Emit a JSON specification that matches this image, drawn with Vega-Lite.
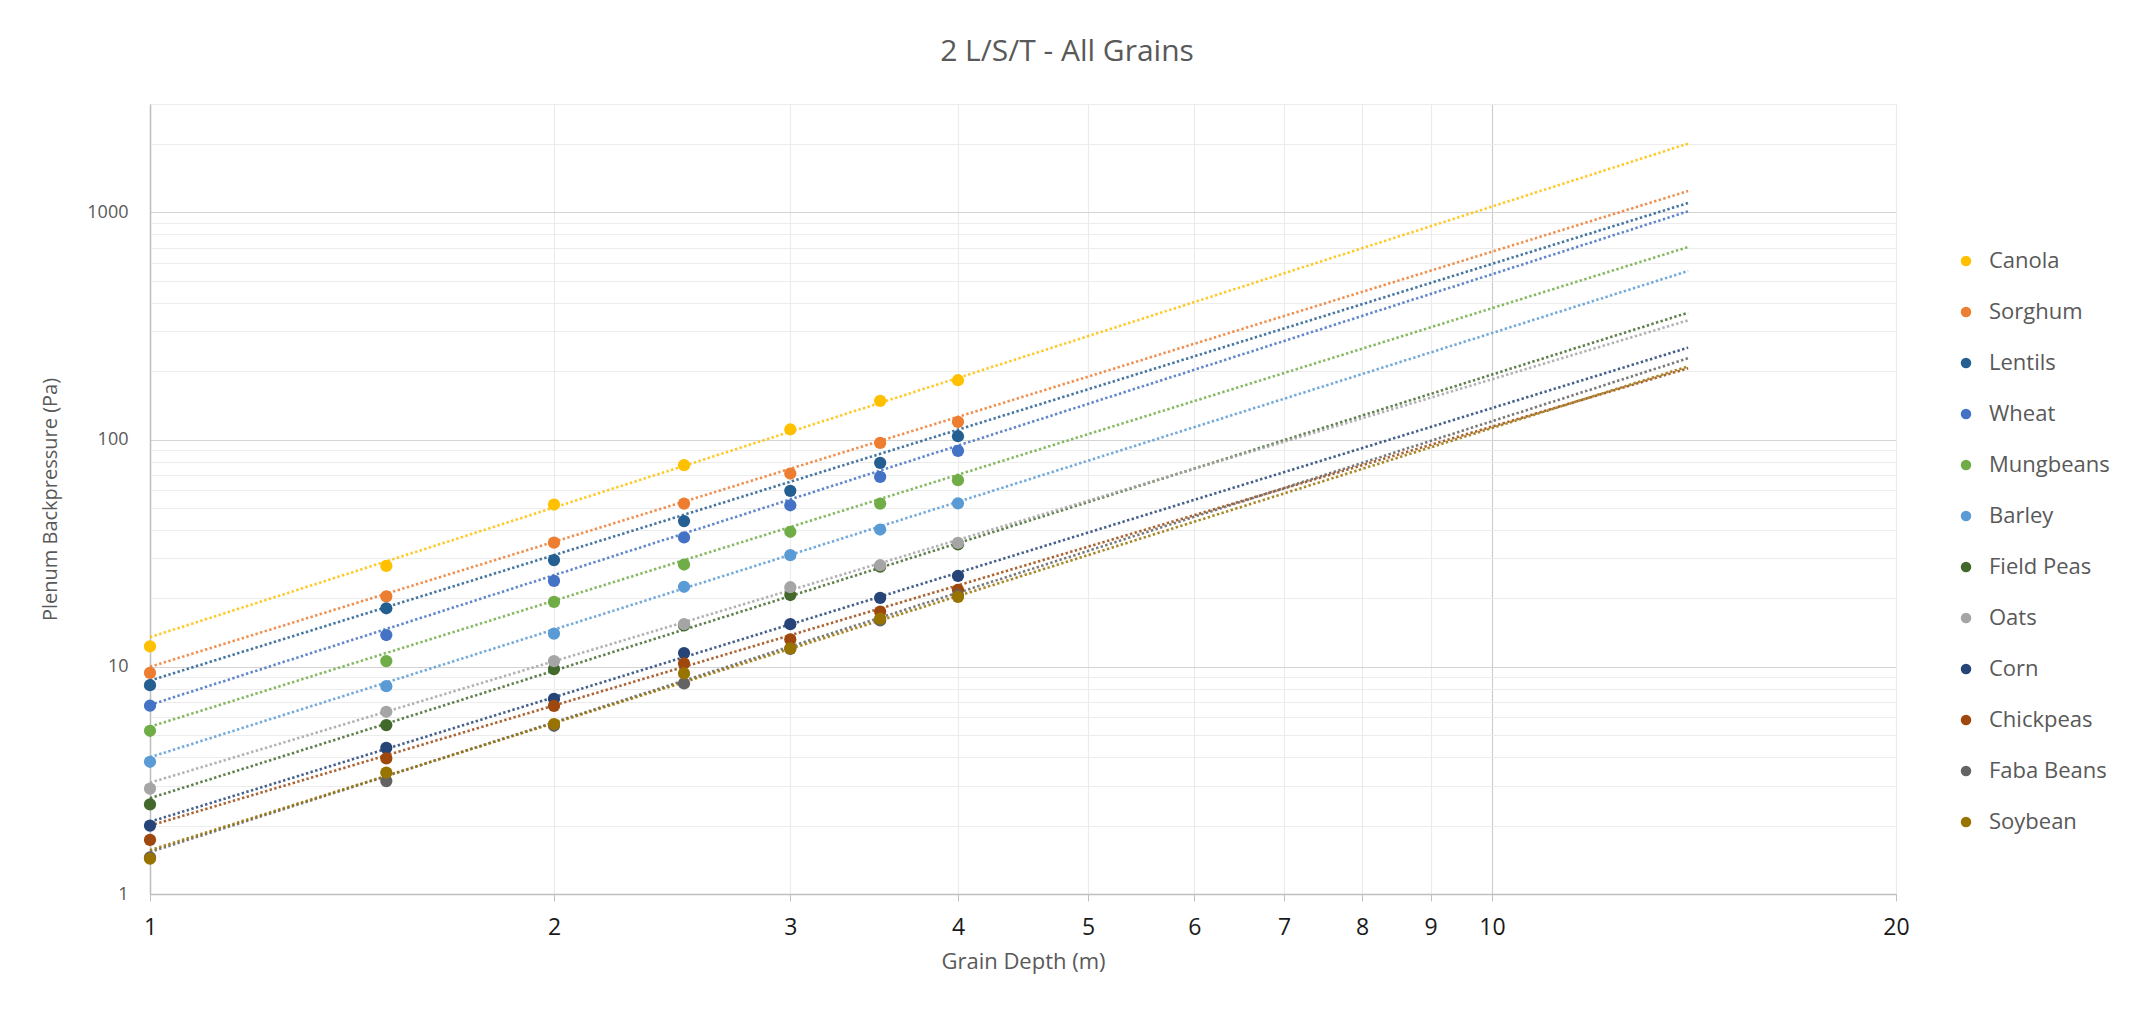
{
  "$schema": "https://vega.github.io/schema/vega-lite/v6.json",
  "width": 1746,
  "height": 790,
  "autosize": {"type": "none"},
  "padding": {"left": 150, "top": 104, "right": 238, "bottom": 120},
  "background": "#ffffff",
  "config": {
    "font": "Open Sans",
    "view": {"stroke": null},
    "axis": {"labelFont": "Open Sans", "titleFont": "Open Sans", "titleFontWeight": "normal"}
  },
  "title": {
    "text": "2 L/S/T - All Grains",
    "fontSize": 30,
    "fontWeight": "normal",
    "color": "#595959",
    "anchor": "middle",
    "dx": 44,
    "offset": 28
  },
  "datasets": {
    "measured": [
      {"grain": "Canola", "depth": 1, "pressure": 12.3},
      {"grain": "Canola", "depth": 1.5, "pressure": 27.8},
      {"grain": "Canola", "depth": 2, "pressure": 51.8},
      {"grain": "Canola", "depth": 2.5, "pressure": 77.2},
      {"grain": "Canola", "depth": 3, "pressure": 110.8},
      {"grain": "Canola", "depth": 3.5, "pressure": 148},
      {"grain": "Canola", "depth": 4, "pressure": 182.5},
      {"grain": "Sorghum", "depth": 1, "pressure": 9.4},
      {"grain": "Sorghum", "depth": 1.5, "pressure": 20.4},
      {"grain": "Sorghum", "depth": 2, "pressure": 35.2},
      {"grain": "Sorghum", "depth": 2.5, "pressure": 52.3},
      {"grain": "Sorghum", "depth": 3, "pressure": 70.9},
      {"grain": "Sorghum", "depth": 3.5, "pressure": 96.7},
      {"grain": "Sorghum", "depth": 4, "pressure": 119.6},
      {"grain": "Lentils", "depth": 1, "pressure": 8.3},
      {"grain": "Lentils", "depth": 1.5, "pressure": 18.1},
      {"grain": "Lentils", "depth": 2, "pressure": 29.5},
      {"grain": "Lentils", "depth": 2.5, "pressure": 43.8},
      {"grain": "Lentils", "depth": 3, "pressure": 59.5},
      {"grain": "Lentils", "depth": 3.5, "pressure": 79},
      {"grain": "Lentils", "depth": 4, "pressure": 103.5},
      {"grain": "Wheat", "depth": 1, "pressure": 6.74},
      {"grain": "Wheat", "depth": 1.5, "pressure": 13.8},
      {"grain": "Wheat", "depth": 2, "pressure": 23.9},
      {"grain": "Wheat", "depth": 2.5, "pressure": 37.1},
      {"grain": "Wheat", "depth": 3, "pressure": 51.4},
      {"grain": "Wheat", "depth": 3.5, "pressure": 68.5},
      {"grain": "Wheat", "depth": 4, "pressure": 89.2},
      {"grain": "Mungbeans", "depth": 1, "pressure": 5.23},
      {"grain": "Mungbeans", "depth": 1.5, "pressure": 10.6},
      {"grain": "Mungbeans", "depth": 2, "pressure": 19.3},
      {"grain": "Mungbeans", "depth": 2.5, "pressure": 28.2},
      {"grain": "Mungbeans", "depth": 3, "pressure": 39.3},
      {"grain": "Mungbeans", "depth": 3.5, "pressure": 52.3},
      {"grain": "Mungbeans", "depth": 4, "pressure": 66.3},
      {"grain": "Barley", "depth": 1, "pressure": 3.82},
      {"grain": "Barley", "depth": 1.5, "pressure": 8.22},
      {"grain": "Barley", "depth": 2, "pressure": 14.0},
      {"grain": "Barley", "depth": 2.5, "pressure": 22.5},
      {"grain": "Barley", "depth": 3, "pressure": 31.0},
      {"grain": "Barley", "depth": 3.5, "pressure": 40.2},
      {"grain": "Barley", "depth": 4, "pressure": 52.4},
      {"grain": "Field Peas", "depth": 1, "pressure": 2.48},
      {"grain": "Field Peas", "depth": 1.5, "pressure": 5.54},
      {"grain": "Field Peas", "depth": 2, "pressure": 9.77},
      {"grain": "Field Peas", "depth": 2.5, "pressure": 15.2},
      {"grain": "Field Peas", "depth": 3, "pressure": 20.7},
      {"grain": "Field Peas", "depth": 3.5, "pressure": 27.6},
      {"grain": "Field Peas", "depth": 4, "pressure": 34.6},
      {"grain": "Oats", "depth": 1, "pressure": 2.91},
      {"grain": "Oats", "depth": 1.5, "pressure": 6.34},
      {"grain": "Oats", "depth": 2, "pressure": 10.6},
      {"grain": "Oats", "depth": 2.5, "pressure": 15.4},
      {"grain": "Oats", "depth": 3, "pressure": 22.4},
      {"grain": "Oats", "depth": 3.5, "pressure": 28.0},
      {"grain": "Oats", "depth": 4, "pressure": 35.1},
      {"grain": "Corn", "depth": 1, "pressure": 2.0},
      {"grain": "Corn", "depth": 1.5, "pressure": 4.4},
      {"grain": "Corn", "depth": 2, "pressure": 7.23},
      {"grain": "Corn", "depth": 2.5, "pressure": 11.5},
      {"grain": "Corn", "depth": 3, "pressure": 15.4},
      {"grain": "Corn", "depth": 3.5, "pressure": 20.1},
      {"grain": "Corn", "depth": 4, "pressure": 25.1},
      {"grain": "Chickpeas", "depth": 1, "pressure": 1.73},
      {"grain": "Chickpeas", "depth": 1.5, "pressure": 3.95},
      {"grain": "Chickpeas", "depth": 2, "pressure": 6.73},
      {"grain": "Chickpeas", "depth": 2.5, "pressure": 10.35},
      {"grain": "Chickpeas", "depth": 3, "pressure": 13.2},
      {"grain": "Chickpeas", "depth": 3.5, "pressure": 17.5},
      {"grain": "Chickpeas", "depth": 4, "pressure": 21.8},
      {"grain": "Faba Beans", "depth": 1, "pressure": 1.45},
      {"grain": "Faba Beans", "depth": 1.5, "pressure": 3.14},
      {"grain": "Faba Beans", "depth": 2, "pressure": 5.5},
      {"grain": "Faba Beans", "depth": 2.5, "pressure": 8.45},
      {"grain": "Faba Beans", "depth": 3, "pressure": 12.0},
      {"grain": "Faba Beans", "depth": 3.5, "pressure": 16.0},
      {"grain": "Faba Beans", "depth": 4, "pressure": 20.6},
      {"grain": "Soybean", "depth": 1, "pressure": 1.43},
      {"grain": "Soybean", "depth": 1.5, "pressure": 3.42},
      {"grain": "Soybean", "depth": 2, "pressure": 5.6},
      {"grain": "Soybean", "depth": 2.5, "pressure": 9.35},
      {"grain": "Soybean", "depth": 3, "pressure": 12.05},
      {"grain": "Soybean", "depth": 3.5, "pressure": 16.3},
      {"grain": "Soybean", "depth": 4, "pressure": 20.3}
    ],
    "trend": [
      {"grain": "Canola", "depth": 1, "pressure": 13.5},
      {"grain": "Canola", "depth": 14, "pressure": 2008},
      {"grain": "Sorghum", "depth": 1, "pressure": 10.0},
      {"grain": "Sorghum", "depth": 14, "pressure": 1242},
      {"grain": "Lentils", "depth": 1, "pressure": 8.7},
      {"grain": "Lentils", "depth": 14, "pressure": 1100},
      {"grain": "Wheat", "depth": 1, "pressure": 6.8},
      {"grain": "Wheat", "depth": 14, "pressure": 1011},
      {"grain": "Mungbeans", "depth": 1, "pressure": 5.45},
      {"grain": "Mungbeans", "depth": 14, "pressure": 704},
      {"grain": "Barley", "depth": 1, "pressure": 4.0},
      {"grain": "Barley", "depth": 14, "pressure": 552},
      {"grain": "Field Peas", "depth": 1, "pressure": 2.64},
      {"grain": "Field Peas", "depth": 14, "pressure": 362},
      {"grain": "Oats", "depth": 1, "pressure": 3.09},
      {"grain": "Oats", "depth": 14, "pressure": 335},
      {"grain": "Corn", "depth": 1, "pressure": 2.08},
      {"grain": "Corn", "depth": 14, "pressure": 254},
      {"grain": "Chickpeas", "depth": 1, "pressure": 2.0},
      {"grain": "Chickpeas", "depth": 14, "pressure": 206},
      {"grain": "Faba Beans", "depth": 1, "pressure": 1.53},
      {"grain": "Faba Beans", "depth": 14, "pressure": 228},
      {"grain": "Soybean", "depth": 1, "pressure": 1.56},
      {"grain": "Soybean", "depth": 14, "pressure": 210}
    ]
  },
  "encoding": {
    "x": {
      "field": "depth",
      "type": "quantitative",
      "scale": {"type": "log", "domain": [1, 20], "nice": false},
      "axis": {
        "title": "Grain Depth (m)",
        "titleFontSize": 22,
        "titleColor": "#595959",
        "titlePadding": 12,
        "values": [1, 2, 3, 4, 5, 6, 7, 8, 9, 10, 20],
        "format": "d",
        "labelFontSize": 23,
        "labelColor": "#1a1a1a",
        "labelFlush": false,
        "labelOverlap": false,
        "labelPadding": 15,
        "domainColor": "#bfbfbf",
        "domainWidth": 1.5,
        "tickColor": "#bfbfbf",
        "tickSize": 7,
        "grid": true,
        "gridColor": {"condition": {"test": "datum.value === 10", "value": "#cfcfcf"}, "value": "#ececec"},
        "gridWidth": 1.2
      }
    },
    "y": {
      "field": "pressure",
      "type": "quantitative",
      "scale": {"type": "log", "domain": [1, 3000], "nice": false},
      "axis": {
        "title": "Plenum Backpressure (Pa)",
        "titleFontSize": 20,
        "titleColor": "#595959",
        "titlePadding": 26,
        "values": [1, 2, 3, 4, 5, 6, 7, 8, 9, 10, 20, 30, 40, 50, 60, 70, 80, 90, 100, 200, 300, 400, 500, 600, 700, 800, 900, 1000, 2000, 3000],
        "labelExpr": "indexof([1, 10, 100, 1000], datum.value) >= 0 ? format(datum.value, 'd') : ''",
        "labelFontSize": 18,
        "labelColor": "#595959",
        "labelOverlap": false,
        "labelFlush": false,
        "labelPadding": 22,
        "ticks": false,
        "domainColor": "#bfbfbf",
        "domainWidth": 1.5,
        "grid": true,
        "gridColor": {"condition": {"test": "indexof([10, 100, 1000], datum.value) >= 0", "value": "#d4d4d4"}, "value": "#ececec"},
        "gridWidth": 1.2
      }
    },
    "color": {
      "field": "grain",
      "type": "nominal",
      "scale": {
        "domain": ["Canola", "Sorghum", "Lentils", "Wheat", "Mungbeans", "Barley", "Field Peas", "Oats", "Corn", "Chickpeas", "Faba Beans", "Soybean"],
        "range": ["#FFC000", "#ED7D31", "#255E91", "#4472C4", "#70AD47", "#5B9BD5", "#43682B", "#A5A5A5", "#264478", "#9E480E", "#636363", "#997300"]
      }
    }
  },
  "layer": [
    {
      "data": {"name": "trend"},
      "mark": {"type": "line", "strokeWidth": 2.6, "strokeDash": [2.4, 2.4], "opacity": 0.85},
      "encoding": {
        "detail": {"field": "grain"},
        "color": {
          "field": "grain",
          "type": "nominal",
          "legend": null
        }
      }
    },
    {
      "data": {"name": "measured"},
      "mark": {"type": "point", "shape": "circle", "filled": true, "size": 150, "opacity": 1},
      "encoding": {
        "color": {
          "field": "grain",
          "type": "nominal",
          "legend": {
            "title": null,
            "orient": "none",
            "legendX": 1805,
            "legendY": 146,
            "padding": 0,
            "symbolType": "circle",
            "symbolSize": 110,
            "symbolStrokeWidth": 0,
            "labelFontSize": 22,
            "labelColor": "#595959",
            "labelOffset": 12,
            "rowPadding": 29
          }
        }
      }
    }
  ],
  "resolve": {"legend": {"color": "independent"}}
}
